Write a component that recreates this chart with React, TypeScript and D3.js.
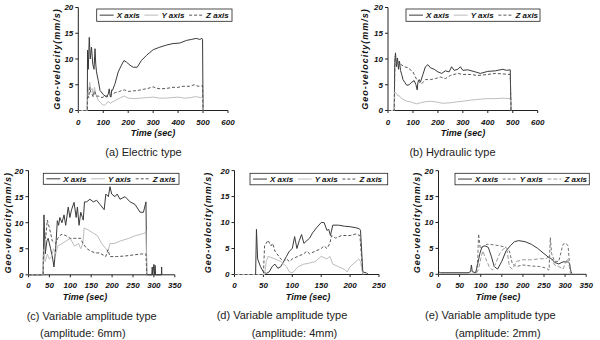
import React from 'react';
import * as d3 from 'd3';

type Pt = [number, number];

// ---------- data ----------
const aX: Pt[] = [[0,0],[36,0],[37,11.7],[40,8],[44,14.2],[48,10],[53,12.3],[58,9],[63,8],[67,12],[70,9],[73,7.5],[80,5.8],[87,3.9],[100,3.1],[113,2.6],[120,3.2],[124,4.2],[128,2.8],[131,2.6],[134,4],[137,3.9],[147,5.2],[160,7.5],[173,8.8],[183,9.7],[193,9.4],[207,8.8],[220,8.4],[236,8.4],[253,9.7],[273,10.7],[300,11.8],[327,12.3],[353,12.7],[380,13],[407,13.1],[433,13.6],[453,13.8],[473,14],[487,13.8],[496,14],[498,13.8],[500,0]];
const aY: Pt[] = [[0,0],[36,0],[37,2],[40,3.5],[46,5.5],[50,4],[55,4.3],[60,3],[65,4.5],[70,3.2],[80,2],[90,1.5],[98,1.1],[105,1],[112,1.3],[120,1.8],[128,1.4],[135,1.6],[150,2],[170,2.5],[185,2.8],[200,2.4],[225,2.3],[250,2.4],[275,2.5],[300,2.6],[325,2.4],[350,2.4],[375,2.5],[400,2.6],[425,2.4],[450,2.5],[470,2.7],[490,2.5],[498,2.6],[500,0]];
const aZ: Pt[] = [[0,0],[36,0],[37,3],[42,2.5],[46,4.5],[50,3.5],[55,3.2],[60,2.6],[65,3.8],[72,2.8],[80,2.8],[95,2.5],[110,2.9],[120,2.6],[130,3],[140,3.3],[150,3.5],[165,3.7],[175,3.9],[185,4],[200,3.7],[220,3.8],[240,3.9],[260,4.1],[280,4.3],[300,4.6],[315,4.3],[330,4.2],[355,4.3],[380,4.5],[400,4.5],[420,4.7],[445,4.7],[465,5],[480,4.7],[498,4.8],[500,0]];

const bX: Pt[] = [[0,0],[25,0],[27,9],[30,11.2],[34,8.5],[38,10.2],[42,8],[46,9.6],[50,7.8],[55,7],[60,6],[67,5.5],[75,4.9],[85,5],[95,5.5],[105,5.8],[112,5],[117,4],[120,5.5],[125,6],[130,5.5],[140,7],[150,8.5],[160,8.9],[170,8.3],[185,8],[200,7.5],[215,7.2],[230,7.7],[245,7.5],[255,8.5],[265,7.8],[280,8],[290,8.5],[300,7.8],[320,7.9],[350,7.5],[370,7.2],[400,7.6],[430,7.7],[460,8],[475,7.8],[490,7.9],[493,0]];
const bY: Pt[] = [[0,0],[25,0],[27,3.6],[30,3.5],[35,3.2],[40,2.8],[45,2.9],[50,2.5],[60,2.2],[75,1.8],[90,1.7],[100,1.5],[115,1.3],[130,1.5],[150,1.7],[170,1.8],[185,1.7],[200,1.6],[220,1.4],[250,1.5],[280,1.7],[300,1.8],[330,2],[370,2.2],[400,2.3],[430,2.3],[460,2.4],[490,2.3],[493,0]];
const bZ: Pt[] = [[0,0],[25,0],[28,10.5],[32,10],[40,9.5],[50,9],[65,8.5],[80,8.3],[100,7.5],[115,6],[125,5.5],[135,5.2],[150,6],[170,6],[190,6.2],[210,6.5],[230,6.2],[250,6.8],[280,7.2],[300,7],[330,7],[360,6.8],[400,7],[430,7.2],[460,7.1],[490,7],[493,0]];

const cX: Pt[] = [[0,0],[35,0],[37,11.5],[40,4],[44,6.5],[47,7],[53,5],[58,3],[61,1.5],[65,5],[69,10.4],[72,9.5],[75,11],[80,10],[85,11.5],[89,9.5],[95,13],[99,11],[103,12.5],[109,13.9],[114,11],[117,13],[121,9.5],[125,12],[129,11],[131,10.5],[134,14],[139,14],[147,14.5],[155,14],[163,14.3],[171,13.5],[181,12.5],[185,15.5],[191,15],[195,16.9],[199,15.5],[207,15],[212,15.5],[219,14.5],[231,15],[243,14],[255,13.5],[267,12],[275,12],[281,14],[283,0],[295,0],[296,1.5],[297,0],[300,2],[301,0],[303,1.8],[304,0],[318,0],[318.5,1.5],[319,0]];
const cY: Pt[] = [[0,0],[35,0],[37,5],[40,2.5],[45,4],[50,3],[55,3.5],[60,5],[65,4],[70,5.5],[80,6],[90,6.5],[100,7],[110,5.5],[120,6],[125,5],[130,6],[133,9],[145,8.5],[155,8],[165,7.5],[175,6],[185,5],[190,4.5],[195,6],[205,6],[220,6.5],[240,7],[255,7.5],[270,7.8],[278,8],[281,8.5],[283,0]];
const cZ: Pt[] = [[0,0],[35,0],[37,9],[41,7],[45,10.5],[50,9],[57,6.5],[65,6],[70,7],[75,7.5],[80,7.8],[90,7.5],[100,7],[110,7],[125,7],[130,6],[140,5],[150,4.5],[160,4.2],[170,4.2],[185,3.5],[190,4.8],[195,3.5],[210,3.5],[230,3.6],[250,3.8],[270,4],[281,4],[283,0]];

const dX: Pt[] = [[0,0],[36.5,0],[38,8.7],[40,3],[45,1.5],[50,0.5],[55,0.2],[60,0.5],[65,1.5],[70,2],[75,1.2],[80,1.5],[85,2.5],[90,3.5],[95,4.5],[100,5],[104,7.3],[108,5],[112,6.5],[116,7.7],[120,6],[130,7],[135,8],[142,9],[150,10],[155,10],[160,8.5],[163,8.7],[166,7.5],[170,9.5],[180,9.5],[190,9.3],[200,9.2],[210,9],[216,8.8],[218,8.5],[222,0.5],[228,0.3],[232,0]];
const dY: Pt[] = [[0,0],[52,0],[55,2.5],[58,3.5],[70,3],[80,2.5],[90,1.5],[95,0.5],[100,0.3],[110,1.5],[120,2],[130,2.2],[140,2.5],[150,3.5],[160,3],[165,3.5],[170,2],[180,1.5],[190,1],[195,0.5],[200,1.5],[205,2],[210,2.5],[215,3],[218,2.5],[222,0]];
const dZ: Pt[] = [[0,0],[50,0],[52,5.5],[58,6.6],[63,5.5],[66,6],[70,4.5],[80,3],[85,2.5],[90,3],[95,2.5],[100,3],[110,3.5],[120,4],[125,4.5],[130,4],[140,4.5],[150,5],[155,5.5],[160,5],[165,6],[168,7.5],[175,7],[185,7.5],[200,7.5],[210,7.8],[217,7.5],[222,0]];

const eX: Pt[] = [[0,0.5],[5,0.3],[70,0.3],[76,0.5],[78,1.8],[80,0.5],[88,0.3],[93,2],[98,4],[103,5.3],[110,5.5],[118,5.2],[125,3.5],[132,1.5],[140,1],[150,2.5],[160,4.5],[170,5.5],[180,6.3],[190,6.5],[205,6.3],[220,5.8],[235,5],[250,4],[262,3.2],[268,3],[275,2.3],[285,2],[295,2.4],[305,2.4],[310,2.2],[314,0.5],[316,0.2]];
const eY: Pt[] = [[90,0.3],[93,3],[95,7.8],[99,5],[105,5.3],[115,5.8],[130,5.7],[145,5.5],[160,5.2],[168,4.5],[175,2],[185,1.5],[200,1.8],[220,1.6],[240,1.5],[255,1.2],[262,0.8],[265,7.1],[268,4],[275,2.5],[285,2.5],[295,5.8],[302,6],[307,5.5],[310,2.5],[314,0]];
const eZ: Pt[] = [[90,0.3],[95,1],[100,3],[105,4.5],[112,3],[120,1.5],[128,0.8],[135,2],[145,4],[155,5],[162,4.8],[168,1.5],[175,1],[185,2.5],[200,2.8],[220,2.8],[240,3],[255,3],[262,3.5],[267,3],[275,1.8],[285,1.5],[295,1],[300,2],[306,3],[310,1.5],[313,0]];

const yTickVals = [0, 5, 10, 15, 20];
const ticks600 = [0, 100, 200, 300, 400, 500, 600];
const ticks350 = [0, 50, 100, 150, 200, 250, 300, 350];
const ticks250 = [0, 50, 100, 150, 200, 250];
const seriesNames = ['X axis', 'Y axis', 'Z axis'];
const yTitle = 'Geo-velocity(mm/s)';
const xTitle = 'Time (sec)';
const capA = ['(a) Electric type'];
const capB = ['(b) Hydraulic type'];
const capC = ['(c) Variable amplitude type', '(amplitude: 6mm)'];
const capD = ['(d) Variable amplitude type', '(amplitude: 4mm)'];
const capE = ['(e) Variable amplitude type', '(amplitude: 2mm)'];

// ---------- styles ----------
const FONT = "'Liberation Sans', Arial, sans-serif";
type Style = { stroke: string; dash?: string };
const stdStyles: Style[] = [
  { stroke: '#3a3a3a' },
  { stroke: '#bdbdbd' },
  { stroke: '#555', dash: '3,2' },
];
const eStyles: Style[] = [
  { stroke: '#3a3a3a' },
  { stroke: '#707070', dash: '3,2' },
  { stroke: '#999', dash: '4,2' },
];

type Cfg = {
  xr: [number, number]; yr: [number, number]; xMax: number; xTicks: number[];
  legend: [number, number, number, number];
  yTitleX: number; timeX: number; tickY: number; timeY: number;
  caps: string[]; capX: number[]; capY: number[]; anchor: string;
  series: Pt[][]; styles: Style[];
};

const panels: Cfg[] = [
  { xr: [78.3, 228], yr: [110.5, 7.5], xMax: 600, xTicks: ticks600, legend: [96.7, 9, 135.3, 12.3],
    yTitleX: 57, timeX: 153, tickY: 124.5, timeY: 135.5, caps: capA, capX: [143.5], capY: [155.5], anchor: 'middle',
    series: [aX, aY, aZ], styles: stdStyles },
  { xr: [388, 537.7], yr: [110.5, 7.5], xMax: 600, xTicks: ticks600, legend: [406, 9, 134, 12.3],
    yTitleX: 365, timeX: 463, tickY: 124.5, timeY: 135.5, caps: capB, capX: [452.5], capY: [155.5], anchor: 'middle',
    series: [bX, bY, bZ], styles: stdStyles },
  { xr: [28.5, 174.8], yr: [274.8, 170.6], xMax: 350, xTicks: ticks350, legend: [43.3, 173.3, 135.7, 11],
    yTitleX: 7.5, timeX: 85, tickY: 288, timeY: 299.5, caps: capC, capX: [26.7, 40], capY: [320, 336.5], anchor: 'start',
    series: [cX, cY, cZ], styles: stdStyles },
  { xr: [234.5, 379], yr: [274.5, 170.6], xMax: 250, xTicks: ticks250, legend: [250, 173.3, 137.7, 11.5],
    yTitleX: 208, timeX: 308, tickY: 288, timeY: 299.5, caps: capD, capX: [216.7, 251.7], capY: [319, 336.5], anchor: 'start',
    series: [dX, dY, dZ], styles: stdStyles },
  { xr: [438.5, 586.2], yr: [274.3, 170.7], xMax: 350, xTicks: ticks350, legend: [455, 173.3, 134.3, 11.5],
    yTitleX: 416.7, timeX: 498, tickY: 288, timeY: 299.5, caps: capE, capX: [425, 455], capY: [319, 336.5], anchor: 'start',
    series: [eX, eY, eZ], styles: eStyles },
];

function Panel({ cfg }: { cfg: Cfg }) {
  const xs = d3.scaleLinear().domain([0, cfg.xMax]).range(cfg.xr);
  const ys = d3.scaleLinear().domain([0, 20]).range(cfg.yr);
  const line = d3.line<Pt>().x(d => xs(d[0])).y(d => ys(d[1]));
  const x0 = cfg.xr[0];
  const yb = cfg.yr[0];
  const [lx, ly, lw, lh] = cfg.legend;
  const yMid = (cfg.yr[0] + cfg.yr[1]) / 2;
  return (
    <g>
      {/* axes */}
      <line x1={x0} x2={x0} y1={ys(20)} y2={yb} stroke="#222" strokeWidth={1} />
      <line x1={x0} x2={cfg.xr[1]} y1={yb} y2={yb} stroke="#222" strokeWidth={1} />
      {yTickVals.map(v => (
        <g key={'y' + v}>
          <line x1={x0 - 3} x2={x0} y1={ys(v)} y2={ys(v)} stroke="#222" />
          <text x={x0 - 5} y={ys(v) + 2.9} textAnchor="end" fontSize={8} fontWeight="bold" fontStyle="italic" fontFamily={FONT} fill="#111">{v}</text>
        </g>
      ))}
      {cfg.xTicks.map(v => (
        <g key={'x' + v}>
          <line x1={xs(v)} x2={xs(v)} y1={yb} y2={yb + 2.5} stroke="#222" />
          <text x={xs(v)} y={cfg.tickY} textAnchor="middle" fontSize={8} fontWeight="bold" fontStyle="italic" fontFamily={FONT} fill="#111">{v}</text>
        </g>
      ))}
      {/* series */}
      {cfg.series.map((s, i) => (
        <path key={'s' + i} d={line(s) || ''} fill="none" stroke={cfg.styles[i].stroke}
          strokeDasharray={cfg.styles[i].dash} strokeWidth={1} />
      ))}
      {/* legend */}
      <rect x={lx} y={ly} width={lw} height={lh} fill="#fff" stroke="#222" strokeWidth={0.8} />
      {seriesNames.map((n, i) => {
        const sx = lx + 3 + i * 44.7;
        const cy = ly + lh / 2;
        return (
          <g key={'l' + i}>
            <line x1={sx} x2={sx + 14} y1={cy} y2={cy} stroke={cfg.styles[i].stroke} strokeDasharray={cfg.styles[i].dash} />
            <text x={sx + 17} y={cy + 2.9} fontSize={8} fontWeight="bold" fontStyle="italic" fontFamily={FONT} fill="#111">{n}</text>
          </g>
        );
      })}
      {/* titles */}
      <text transform={`translate(${cfg.yTitleX},${yMid}) rotate(-90)`} textAnchor="middle" dy={3}
        fontSize={9} fontWeight="bold" fontStyle="italic" letterSpacing={1} fontFamily={FONT} fill="#111">{yTitle}</text>
      <text x={cfg.timeX} y={cfg.timeY} textAnchor="middle" fontSize={9} fontWeight="bold" fontStyle="italic" fontFamily={FONT} fill="#111">{xTitle}</text>
      {cfg.caps.map((c, i) => (
        <text key={'c' + i} x={cfg.capX[i]} y={cfg.capY[i]} textAnchor={cfg.anchor} fontSize={11} fontFamily={FONT} fill="#222">{c}</text>
      ))}
    </g>
  );
}

export default function App() {
  return (
    <svg width={600} height={340} style={{ position: 'absolute', left: 0, top: 0, background: '#fff' }}>
      <rect width={600} height={340} fill="#fff" />
      {panels.map((p, i) => <Panel key={i} cfg={p} />)}
    </svg>
  );
}
